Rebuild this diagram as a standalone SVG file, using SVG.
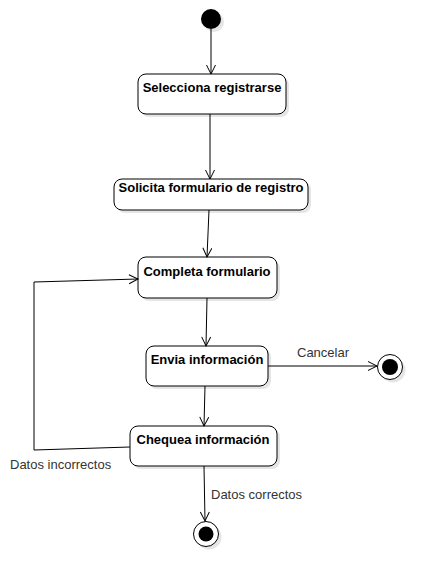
<svg xmlns="http://www.w3.org/2000/svg" width="443" height="587" viewBox="0 0 443 587">
<defs>
<style>
.node{fill:#ffffff;stroke:#000000;stroke-width:1}
.shadow{fill:#000000;fill-opacity:0.1;stroke:none}
.title{font-family:"Liberation Sans",Arial,sans-serif;font-size:13px;font-weight:bold;fill:#000000;text-anchor:middle}
.lbl{font-family:"Liberation Sans",Arial,sans-serif;font-size:13px;fill:#333333}
.edge{fill:none;stroke:#000000;stroke-width:1}
</style>
<marker id="arr" markerWidth="12" markerHeight="12" refX="10" refY="5" orient="auto" markerUnits="userSpaceOnUse">
<path d="M1,0.5 L10,5 L1,9.5" fill="none" stroke="#000000" stroke-width="1"/>
</marker>
</defs>
<rect width="443" height="587" fill="#ffffff"/>
<g id="start">
<circle cx="214" cy="22" r="10" class="shadow"/>
<circle cx="211" cy="19" r="10" fill="#000000"/>
</g>
<g id="n1">
<rect x="141" y="77" width="148" height="40" rx="8" class="shadow"/>
<rect x="138" y="74" width="148" height="40" rx="8" class="node"/>
<text x="212" y="92" class="title">Selecciona registrarse</text>
</g>
<g id="n2">
<rect x="117" y="182" width="194" height="31" rx="8" class="shadow"/>
<rect x="114" y="179" width="194" height="31" rx="8" class="node"/>
<text x="211" y="192" class="title">Solicita formulario de registro</text>
</g>
<g id="n3">
<rect x="141" y="260" width="139" height="41" rx="8" class="shadow"/>
<rect x="138" y="257" width="139" height="41" rx="8" class="node"/>
<text x="207" y="276" class="title">Completa formulario</text>
</g>
<g id="n4">
<rect x="149" y="349" width="122" height="40" rx="8" class="shadow"/>
<rect x="146" y="346" width="122" height="40" rx="8" class="node"/>
<text x="207" y="364" class="title">Envia información</text>
</g>
<g id="n5">
<rect x="133" y="429" width="147" height="40" rx="8" class="shadow"/>
<rect x="130" y="426" width="147" height="40" rx="8" class="node"/>
<text x="203" y="444" class="title">Chequea información</text>
</g>
<g id="end1">
<circle cx="393" cy="370" r="12.5" class="shadow"/>
<circle cx="390" cy="367" r="12.5" class="node"/>
<circle cx="390" cy="367" r="8" fill="#000000"/>
</g>
<g id="end2">
<circle cx="209" cy="537" r="12.5" class="shadow"/>
<circle cx="206" cy="534" r="12.5" class="node"/>
<circle cx="206" cy="534" r="7.5" fill="#000000"/>
</g>
<g id="connectors">
<path d="M211,29 L211,74" class="edge" marker-end="url(#arr)"/>
<path d="M210,114 L210,179" class="edge" marker-end="url(#arr)"/>
<path d="M209,210 L207,257" class="edge" marker-end="url(#arr)"/>
<path d="M207,298 L206,346" class="edge" marker-end="url(#arr)"/>
<path d="M205,386 L204,426" class="edge" marker-end="url(#arr)"/>
<path d="M268,366 L377,366" class="edge" marker-end="url(#arr)"/>
<path d="M130,447 L34,450 L34,282 L138,279" class="edge" marker-end="url(#arr)"/>
<path d="M204,466 L205,521" class="edge" marker-end="url(#arr)"/>
<text x="297" y="357" class="lbl">Cancelar</text>
<text x="10" y="469" class="lbl">Datos incorrectos</text>
<text x="211" y="499" class="lbl">Datos correctos</text>
</g>
</svg>
